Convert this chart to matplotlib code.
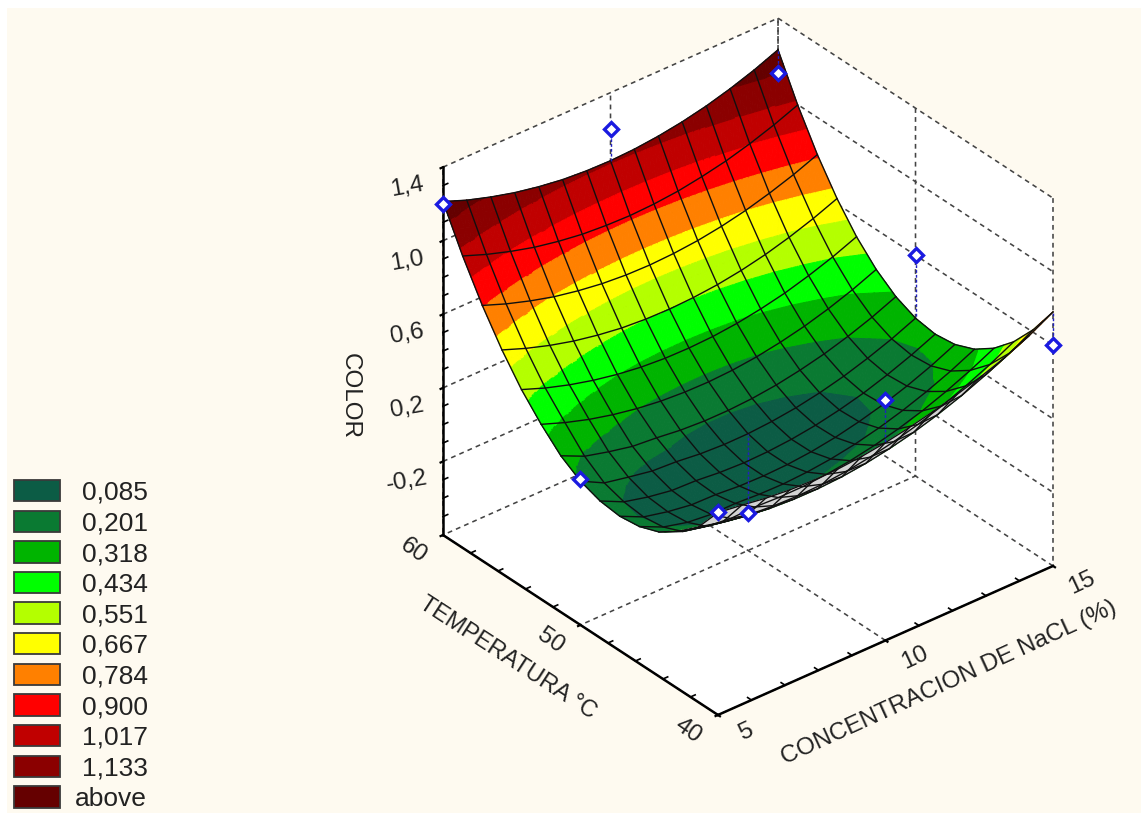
import numpy as np
import matplotlib
matplotlib.use("Agg")
import matplotlib.pyplot as plt
from matplotlib.patches import Patch, Rectangle
from mpl_toolkits.mplot3d import proj3d
from mpl_toolkits.mplot3d.art3d import Poly3DCollection

plt.rcParams['font.family'] = ['Liberation Sans', 'DejaVu Sans']

# ---- data ----
conc_grid = [5.00, 5.71, 6.43, 7.14, 7.86, 8.57, 9.29, 10.00, 10.71, 11.43, 12.14, 12.86, 13.57, 14.29, 15.00]
temp_grid = [40.00, 41.43, 42.86, 44.29, 45.71, 47.14, 48.57, 50.00, 51.43, 52.86, 54.29, 55.71, 57.14, 58.57, 60.00]
color_surface = [
    [.500, .483, .463, .450, .445, .447, .458, .476, .500, .530, .565, .605, .650, .710, .781],
    [.352, .320, .296, .280, .272, .271, .278, .293, .316, .346, .384, .430, .484, .545, .615],
    [.259, .224, .197, .178, .167, .163, .167, .179, .199, .226, .261, .304, .355, .413, .479],
    [.185, .130, .100, .085, .089, .083, .084, .093, .110, .135, .167, .207, .255, .311, .374],
    [.145, .085, .052, .038, .039, .031, .029, .036, .050, .072, .102, .140, .185, .238, .299],
    [.131, .070, .040, .020, .017, .006, .003, .007, .019, .039, .067, .102, .145, .196, .255],
    [.144, .082, .050, .028, .023, .010, .004, .007, .017, .035, .061, .094, .136, .185, .241],
    [.182, .115, .088, .064, .056, .041, .034, .035, .044, .060, .084, .116, .156, .203, .258],
    [.250, .190, .156, .128, .116, .100, .092, .092, .099, .114, .137, .167, .205, .251, .305],
    [.351, .303, .262, .230, .205, .188, .179, .177, .183, .197, .219, .248, .285, .330, .383],
    [.470, .421, .380, .347, .321, .303, .293, .291, .296, .309, .330, .358, .395, .439, .491],
    [.616, .567, .525, .491, .465, .446, .436, .433, .438, .450, .470, .498, .534, .578, .629],
    [.788, .739, .697, .662, .636, .617, .606, .603, .608, .620, .640, .668, .704, .747, .798],
    [.987, .938, .896, .861, .835, .816, .806, .802, .807, .819, .840, .867, .903, .947, .998],
    [1.213, 1.163, 1.122, 1.088, 1.062, 1.043, 1.033, 1.030, 1.035, 1.048, 1.068, 1.096, 1.132, 1.176, 1.228],
]
obs_temp = [60, 60, 60, 50, 50, 50, 40, 40, 40]
obs_conc = [5, 10, 15, 5, 10, 15, 5, 10, 15]
obs_color = [1.198, 1.201, 1.10, 0.196, -0.396, 0.599, 0.501, 0.705, 0.604]

band_limits = [0.085, 0.201, 0.318, 0.434, 0.551, 0.667, 0.784, 0.900, 1.017, 1.133]
band_labels = ['0,085', '0,201', '0,318', '0,434', '0,551', '0,667', '0,784', '0,900', '1,017', '1,133', 'above']
band_colors = ['#0C5C45', '#0A7A32', '#00B400', '#00FF00', '#B4FF00', '#FFFF00',
               '#FF8000', '#FF0000', '#C00000', '#8B0000', '#650000']
underside = '#D4D4D4'

conc_ticks = [5, 10, 15]
temp_ticks = [40, 50, 60]
color_ticks = [-0.2, 0.2, 0.6, 1.0, 1.4]
color_ticklabels = ['-0,2', '0,2', '0,6', '1,0', '1,4']
conc_minor = [6, 7, 8, 9, 11, 12, 13, 14]
temp_minor = [42, 44, 46, 48, 52, 54, 56, 58]
color_minor = [-0.5, -0.4, -0.3, -0.1, 0.0, 0.1, 0.3, 0.4, 0.5, 0.7, 0.8, 0.9, 1.1, 1.2, 1.3]

# ---- figure ----
W, H = 1141, 816
ELEV, AZIM = 32.65, -129.5
fig = plt.figure(figsize=(W / 100, H / 100), dpi=100, facecolor='white')
fig.add_artist(Rectangle((7 / W, 3 / H), 1, 1 - 11 / H, transform=fig.transFigure,
                         facecolor='#FEFAF0', edgecolor='none', zorder=-5))
ax = fig.add_axes([0, 0, 1, 1], projection='3d', computed_zorder=False)
ax.set_proj_type('ortho')
ax.view_init(elev=ELEV, azim=AZIM)
ax.set_facecolor('none')
ax.set_xlim(5, 15, view_margin=0)
ax.set_ylim(40, 60, view_margin=0)
ax.set_zlim(-0.6, 1.4, view_margin=0)
ax.grid(True)
box = (434.3, 432.4, 437.0)


def to_px(c, t, z):
    X, Y, _ = proj3d.proj_transform(c, t, z, ax.get_proj())
    return ax.transData.transform((X, Y))


# fit the orthographic box on the reference frame
ax.set_box_aspect(box, zoom=1)
ax.apply_aspect()
a, b = to_px(5, 60, -0.6), to_px(15, 40, -0.6)
ax.set_box_aspect(box, zoom=610 / (b[0] - a[0]))
ax.apply_aspect()
a = to_px(5, 60, -0.6)
ax.set_position([(443 - a[0]) / W, ((H - 535) - a[1]) / H, 1, 1])
ax.apply_aspect()

# ---- axes ----
ax.set_xticks(conc_ticks)
ax.set_yticks(temp_ticks)
ax.set_zticks(color_ticks)
ax.set_xticklabels([''] * len(conc_ticks))
ax.set_yticklabels([''] * len(temp_ticks))
ax.set_zticklabels([''] * len(color_ticks))
for axis in (ax.xaxis, ax.yaxis, ax.zaxis):
    axis.set_pane_color((1, 1, 1, 1))
    axis.pane.set_edgecolor('none')
    axis.line.set_color('black')
    axis.line.set_linewidth(1.8)
    axis._axinfo['grid'].update(color='#444444', linewidth=1.15, linestyle=(0, (3, 2.6)))
    axis._axinfo['tick'].update(inward_factor=0.09, outward_factor=0.0)
    axis._axinfo['tick']['linewidth'] = {True: 1.6, False: 1.2}


def tick_text(anchor, dx, dy, text, rotation):
    fig.text((anchor[0] + dx) / W, (anchor[1] + dy) / H, text, rotation=rotation,
             rotation_mode='anchor', ha='center', va='center', fontsize=17.5, color='#222222')


for v in conc_ticks:
    tick_text(to_px(v, 40, -0.6), 29, -17, str(v), 25)
for v in temp_ticks:
    tick_text(to_px(5, v, -0.6), -30, -16, str(v), -35)
for v, s in zip(color_ticks, color_ticklabels):
    tick_text(to_px(5, 60, v), -36, -20, s, 10)

# minor ticks
for v in conc_minor:
    ax.plot([v, v], [40, 40.28], [-0.6, -0.6], color='black', lw=1.2, zorder=1)
for v in temp_minor:
    ax.plot([5, 5.14], [v, v], [-0.6, -0.6], color='black', lw=1.2, zorder=1)
for v in color_minor:
    ax.plot([5, 5.14], [60, 60], [v, v], color='black', lw=1.2, zorder=1)

# ---- surface, cut into the colour bands ----
C, T = np.meshgrid(conc_grid, temp_grid)
Z = np.array(color_surface)
view = np.array([np.cos(np.radians(ELEV)) * np.cos(np.radians(AZIM)),
                 np.cos(np.radians(ELEV)) * np.sin(np.radians(AZIM)),
                 np.sin(np.radians(ELEV))])


def clip(poly, level, keep_above):
    out = []
    n = len(poly)
    for i in range(n):
        p, q = poly[i], poly[(i + 1) % n]
        ip = (p[2] >= level) == keep_above
        iq = (q[2] >= level) == keep_above
        if ip:
            out.append(p)
        if ip != iq:
            f = (level - p[2]) / (q[2] - p[2])
            out.append(p + f * (q - p))
    return out


def is_underside(tri):
    s = [np.array([(v[0] - 5) / 10, (v[1] - 40) / 20, (v[2] + 0.6) / 2]) for v in tri]
    n = np.cross(s[1] - s[0], s[2] - s[0])
    if n[2] < 0:
        n = -n
    return n @ view < 0


SUB = 4  # render each mesh cell as SUB x SUB facets so band edges stay smooth
polys, faces = [], []
edges = [-np.inf] + band_limits + [np.inf]
P = np.dstack([C, T, Z])
for i in range(Z.shape[0] - 1):
    for j in range(Z.shape[1] - 1):
        q00, q01, q10, q11 = P[i, j], P[i, j + 1], P[i + 1, j], P[i + 1, j + 1]

        def at(u, v):
            return (q00 * (1 - u) * (1 - v) + q01 * (1 - u) * v + q10 * u * (1 - v) + q11 * u * v)

        for m in range(SUB):
            for n_ in range(SUB):
                u0, u1, v0, v1 = m / SUB, (m + 1) / SUB, n_ / SUB, (n_ + 1) / SUB
                p = [at(u0, v0), at(u0, v1), at(u1, v1), at(u1, v0)]
                for tri in ([p[0], p[1], p[2]], [p[0], p[2], p[3]]):
                    if is_underside(tri):
                        polys.append(np.array(tri))
                        faces.append(underside)
                        continue
                    for k, colour in enumerate(band_colors):
                        part = list(tri)
                        if np.isfinite(edges[k]):
                            part = clip(part, edges[k], True)
                        if part and np.isfinite(edges[k + 1]):
                            part = clip(part, edges[k + 1], False)
                        if len(part) >= 3:
                            polys.append(np.array(part))
                            faces.append(colour)

surf = Poly3DCollection(polys, facecolors=faces, edgecolors=faces, linewidths=0.7, zsort='average', zorder=2)
ax.add_collection3d(surf)

for i in range(Z.shape[0]):
    ax.plot(C[i], T[i], Z[i], color='#101010', lw=1.0, zorder=3)
for j in range(Z.shape[1]):
    ax.plot(C[:, j], T[:, j], Z[:, j], color='#101010', lw=1.0, zorder=3)

# ---- observed points with stems to the surface ----
for t, c, z in zip(obs_temp, obs_conc, obs_color):
    zs = Z[temp_grid.index(float(t)), conc_grid.index(float(c))]
    ax.plot([c, c], [t, t], [z, zs], color='#2020C0', lw=1.0, ls=(0, (2, 1.5)), zorder=4)
ax.plot(obs_conc, obs_temp, obs_color, ls='none', marker='D', ms=7, mfc='white',
        mec='#1A1AE0', mew=2.4, zorder=5)

# ---- axis titles ----
fig.text(508 / W, 1 - 658 / H, 'TEMPERATURA °C', rotation=-33, rotation_mode='anchor',
         ha='center', va='center', fontsize=16.8, color='#222222')
fig.text(949 / W, 1 - 683 / H, 'CONCENTRACION DE NaCL (%)', rotation=24.6, rotation_mode='anchor',
         ha='center', va='center', fontsize=17.5, color='#222222')
fig.text(350 / W, 1 - 396 / H, 'COLOR', rotation=270, rotation_mode='anchor',
         ha='center', va='center', fontsize=17.5, color='#222222')

# ---- legend ----
handles = [Patch(facecolor=c, edgecolor='#3A3A3A', linewidth=1.3, label=l)
           for c, l in zip(band_colors, band_labels)]
leg = fig.legend(handles=handles, loc='lower left', bbox_to_anchor=(14 / W, 5 / H), frameon=False,
                 fontsize=19, borderaxespad=0, borderpad=0, handlelength=1.74, handleheight=0.87,
                 labelspacing=0.22, handletextpad=0.83, labelcolor='#222222')
leg.get_texts()[-1].set_x(-7)

fig.savefig('out.png', dpi=100)
